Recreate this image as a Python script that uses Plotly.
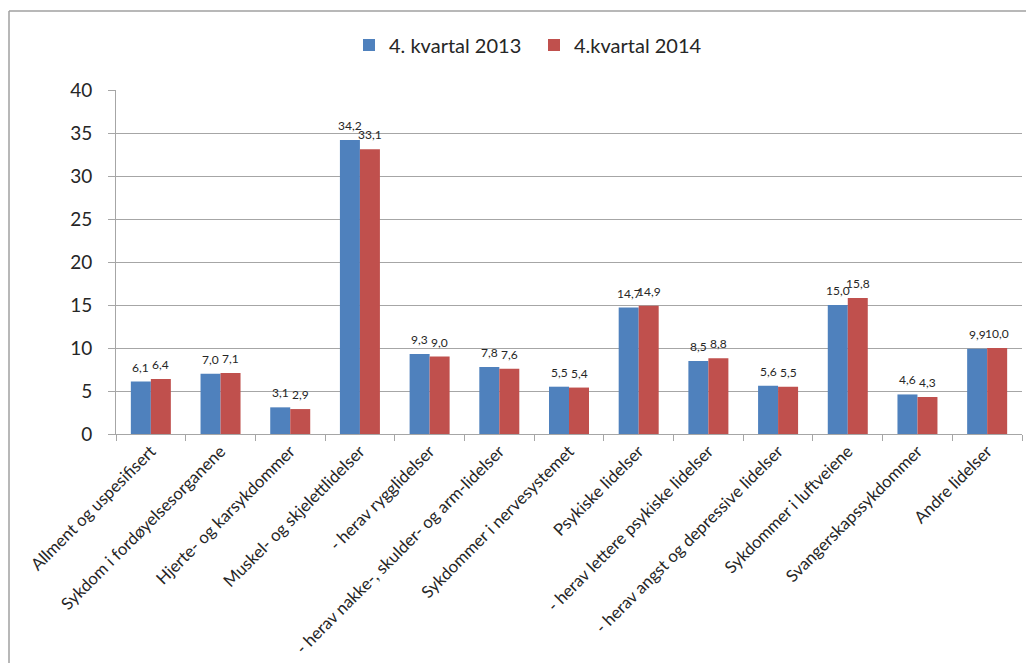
import plotly.graph_objects as go

categories = [
    "Allment og uspesifisert",
    "Sykdom i fordøyelsesorganene",
    "Hjerte- og karsykdommer",
    "Muskel- og skjelettlidelser",
    "- herav rygglidelser",
    "- herav nakke-, skulder- og arm-lidelser",
    "Sykdommer i nervesystemet",
    "Psykiske lidelser",
    "- herav lettere psykiske lidelser",
    "- herav angst og depressive lidelser",
    "Sykdommer i luftveiene",
    "Svangerskapssykdommer",
    "Andre lidelser",
]
values_2013 = [6.1, 7.0, 3.1, 34.2, 9.3, 7.8, 5.5, 14.7, 8.5, 5.6, 15.0, 4.6, 9.9]
values_2014 = [6.4, 7.1, 2.9, 33.1, 9.0, 7.6, 5.4, 14.9, 8.8, 5.5, 15.8, 4.3, 10.0]
series_names = ["4. kvartal 2013", "4.kvartal 2014"]
y_ticks = [0, 5, 10, 15, 20, 25, 30, 35, 40]

BLUE = "#4f81bd"
RED = "#c0504d"
GRID = "#a6a6a6"
TXT = "#262626"
FONT = "Lato, Open Sans, sans-serif"


def fmt(v):
    return f"{v:.1f}".replace(".", ",")


fig = go.Figure()
fig.add_trace(go.Bar(x=categories, y=values_2013, name=series_names[0],
                     marker=dict(color=BLUE, line=dict(width=0))))
fig.add_trace(go.Bar(x=categories, y=values_2014, name=series_names[1],
                     marker=dict(color=RED, line=dict(width=0))))

annotations = []
for vals, xs in ((values_2013, -10), (values_2014, 10)):
    for c, v in zip(categories, vals):
        annotations.append(dict(
            x=c, y=v, xref="x", yref="y", text=fmt(v), showarrow=False,
            xshift=xs, yshift=5, yanchor="bottom", xanchor="center",
            font=dict(family=FONT, size=12, color=TXT),
        ))

# page body has an 8px margin, so the figure is 16px smaller and offset by 8px
FW, FH = 1018, 655
OFF = 8
L, T = 116 - OFF, 90 - OFF
R = FW - (1022 - OFF)
B = FH - (434 - OFF)
W, H = FW - L - R, FH - T - B


def px_x(x):
    return (x - OFF - L) / W


def px_y(y):
    return (FH - B - (y - OFF)) / H


shapes = [
    dict(type="line", xref="paper", yref="paper", x0=px_x(9), x1=px_x(9),
         y0=px_y(11), y1=px_y(680), line=dict(color="#a0a0a0", width=1.5)),
    dict(type="line", xref="paper", yref="paper", x0=px_x(9), x1=px_x(1040),
         y0=px_y(11), y1=px_y(11), line=dict(color="#a0a0a0", width=1.5)),
]

fig.update_layout(
    width=FW, height=FH,
    margin=dict(l=L, r=R, t=T, b=B, autoexpand=False),
    paper_bgcolor="white", plot_bgcolor="white",
    barmode="group", bargap=0.426, bargroupgap=0,
    font=dict(family=FONT, color=TXT),
    legend=dict(orientation="h", x=px_x(349), xanchor="left", y=px_y(45), yanchor="middle",
                font=dict(size=20, family=FONT, color=TXT),
                itemwidth=30, traceorder="normal",
                entrywidth=140, entrywidthmode="pixels"),
    annotations=annotations,
    shapes=shapes,
    showlegend=True,
)
fig.update_xaxes(
    type="category", tickangle=-45, tickson="boundaries",
    ticks="outside", ticklen=6, tickcolor=GRID,
    showline=True, linecolor=GRID, linewidth=1,
    showgrid=False, automargin=False,
    tickfont=dict(size=16.8, family=FONT, color=TXT),
)
fig.update_yaxes(
    range=[0, 40], tickvals=y_ticks, ticks="outside", ticklen=7, tickcolor=GRID,
    showline=True, linecolor=GRID, linewidth=1,
    showgrid=True, gridcolor=GRID, gridwidth=1,
    zeroline=False, ticklabelstandoff=12, automargin=False,
    tickfont=dict(size=19, family=FONT, color=TXT),
)

fig.write_html("out.html")
